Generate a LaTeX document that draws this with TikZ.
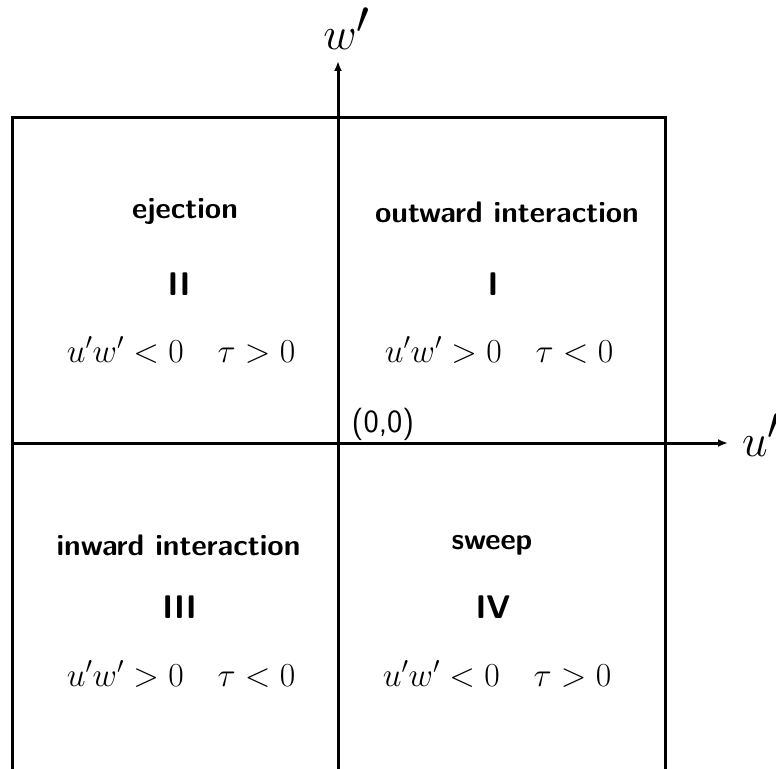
\documentclass[tikz,border=0pt]{standalone}
\usepackage{graphicx}
\usetikzlibrary{arrows.meta}
\newcommand{\lb}[1]{\scalebox{1.35}{\sffamily\bfseries\fontsize{22}{26}\selectfont #1}}
\newcommand{\nm}[1]{\scalebox{1.09}{\sffamily\bfseries\fontsize{30}{34}\selectfont #1}}
\newcommand{\mt}[1]{\scalebox{1.35}{\fontsize{25}{30}\selectfont #1}}
\newcommand{\axt}[1]{\scalebox{1.85}{\fontsize{40}{46}\selectfont #1}}
\begin{document}
\begin{tikzpicture}[x=1pt,y=-1pt,
  ln/.style={line width=3pt},
  ax/.style={line width=3pt,-{Latex[length=10pt,width=8pt]}}]
\useasboundingbox (0,0) rectangle (776,768);
\begin{scope}
\clip (0,0) rectangle (776,768);
\draw[ln] (12,790) -- (12,117) -- (665,117) -- (665,790);
\coordinate (vb) at (338,790);
\coordinate (vt) at (338,61);
\coordinate (hl) at (12,443);
\coordinate (hr) at (728,443);
\draw[ax] (vb) -- (vt);
\draw[ax] (hl) -- (hr);
\node[anchor=base west,inner sep=0pt] (ul) at (742,456) {\axt{$u'$}};
\end{scope}
\node[anchor=base,inner sep=0pt] (wl) at (347,50) {\axt{$w'$}};
\node (o) at (383,424) {\scalebox{1.62}{\sffamily\fontsize{20}{24}\selectfont (0,0)}};
\node (t2) at (185,212) {\lb{ejection}};
\node (n2) at (179,284) {\nm{II}};
\node (m2) at (181,350) {\mt{$u'w'<0\quad \tau>0$}};
\node (t1) at (507,212) {\lb{outward interaction}};
\node (n1) at (493,284) {\nm{I}};
\node (m1) at (499,350) {\mt{$u'w'>0\quad \tau<0$}};
\node (t3) at (178.5,545) {\lb{inward interaction}};
\node (n3) at (179.5,607) {\nm{III}};
\node (m3) at (181,674) {\mt{$u'w'>0\quad \tau<0$}};
\node (t4) at (492,545) {\lb{sweep}};
\node (n4) at (493,607) {\nm{IV}};
\node (m4) at (497,674) {\mt{$u'w'<0\quad \tau>0$}};
\end{tikzpicture}
\end{document}
